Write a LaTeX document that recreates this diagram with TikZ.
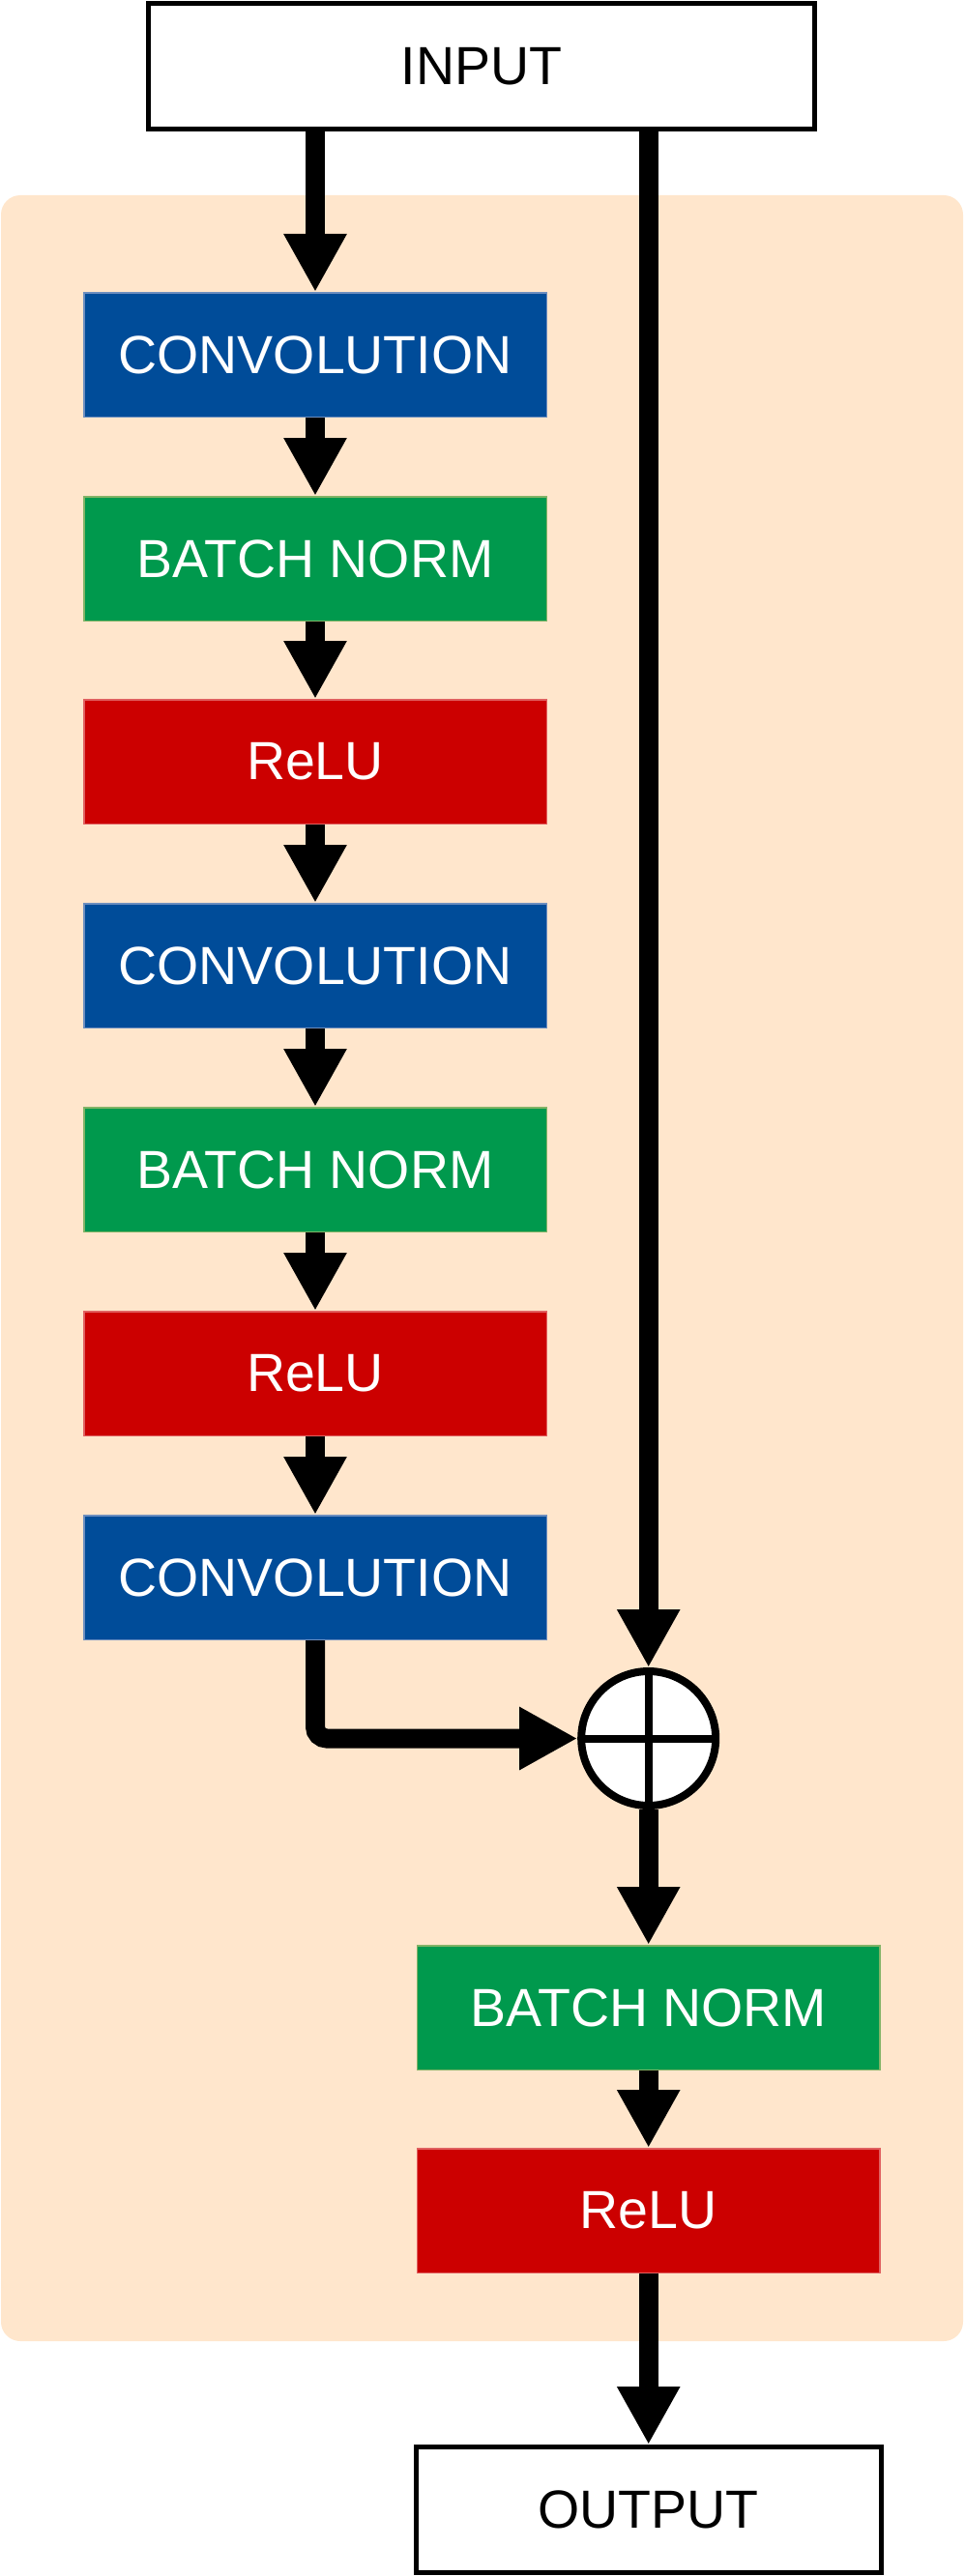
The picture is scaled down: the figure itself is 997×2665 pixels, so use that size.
\documentclass[tikz,border=0pt]{standalone}
\usepackage{fontspec}
\setmainfont{Liberation Sans}
\usetikzlibrary{arrows.meta}
\definecolor{bgc}{HTML}{FFE6CC}
\definecolor{blu}{HTML}{004C99}
\definecolor{grn}{HTML}{00994D}
\definecolor{redc}{HTML}{CC0000}
\definecolor{bluline}{HTML}{6C8EBF}
\definecolor{grnline}{HTML}{82B366}
\definecolor{redline}{HTML}{E06060}
\begin{document}
\begin{tikzpicture}[x=1pt,y=1pt,
  lbl/.style={font=\fontsize{55.5}{60}\selectfont},
  layer/.style={rectangle, minimum width=478.5pt, minimum height=128.5pt, inner sep=0pt, line width=1.5pt, text=white, lbl},
  conv/.style={layer, fill=blu, draw=bluline},
  bn/.style={layer, fill=grn, draw=grnline},
  relu/.style={layer, fill=redc, draw=redline},
  io/.style={rectangle, draw=black, line width=5pt, fill=white, inner sep=0pt, text=black, lbl},
  conn/.style={line width=20pt, -{Triangle[length=60pt,width=61pt]}},
]
\useasboundingbox (0,0) rectangle (997,-2665);
\fill[bgc, rounded corners=20pt] (1,-202) rectangle (996,-2422);
\node[io, minimum width=689pt, minimum height=130pt] (input) at (498,-68.5) {INPUT};
\node[conv] (c1) at (326,-367) {CONVOLUTION};
\node[bn]   (b1) at (326,-578) {BATCH NORM};
\node[relu] (r1) at (326,-788) {ReLU};
\node[conv] (c2) at (326,-999) {CONVOLUTION};
\node[bn]   (b2) at (326,-1210) {BATCH NORM};
\node[relu] (r2) at (326,-1421) {ReLU};
\node[conv] (c3) at (326,-1632) {CONVOLUTION};
\node[circle, draw=black, line width=8pt, fill=white, minimum size=139pt, inner sep=0pt] (plus) at (670.7,-1798.5) {};
\draw[line width=8pt] ([yshift=69.5pt]plus.center) -- ([yshift=-69.5pt]plus.center);
\draw[line width=8pt] ([xshift=-69.5pt]plus.center) -- ([xshift=69.5pt]plus.center);
\node[bn]   (b3) at (670.7,-2077) {BATCH NORM};
\node[relu] (r3) at (670.7,-2287) {ReLU};
\node[io, minimum width=481pt, minimum height=130pt] (out) at (670.7,-2596.5) {OUTPUT};
\draw[conn] (input.south -| c1.north) -- (c1.north);
\draw[conn] (c1) -- (b1);
\draw[conn] (b1) -- (r1);
\draw[conn] (r1) -- (c2);
\draw[conn] (c2) -- (b2);
\draw[conn] (b2) -- (r2);
\draw[conn] (r2) -- (c3);
\draw[conn, rounded corners=12pt] (c3.south) |- (plus.west);
\draw[conn] (input.south -| plus.north) -- (plus.north);
\draw[conn] (plus.south) -- (b3.north);
\draw[conn] (b3) -- (r3);
\draw[conn] (r3.south) -- (out.north);
\end{tikzpicture}
\end{document}
